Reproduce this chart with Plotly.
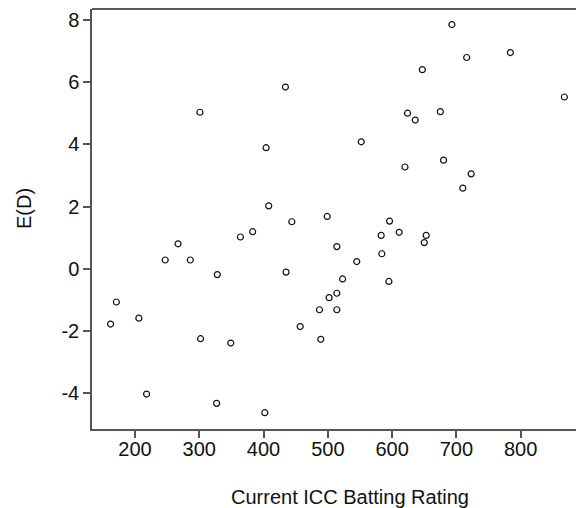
import plotly.graph_objects as go

rating = [162, 171, 206, 218, 247, 267, 286, 301, 302, 327,
          328, 349, 364, 383, 402, 404, 408, 434, 435, 444,
          457, 487, 489, 499, 502, 514, 514, 514, 523, 545,
          552, 583, 584, 595, 596, 611, 620, 624, 636, 647,
          650, 653, 675, 680, 693, 710, 716, 723, 784, 868]
ed = [-1.78, -1.07, -1.59, -4.03, 0.28, 0.80, 0.28, 5.03, -2.25, -4.33,
      -0.19, -2.39, 1.02, 1.19, -4.63, 3.89, 2.02, 5.84, -0.11, 1.51,
      -1.86, -1.32, -2.27, 1.68, -0.93, 0.71, -0.79, -1.32, -0.33, 0.23,
      4.08, 1.07, 0.48, -0.41, 1.53, 1.17, 3.27, 5.00, 4.78, 6.40,
      0.84, 1.07, 5.05, 3.49, 7.85, 2.59, 6.79, 3.05, 6.95, 5.52]

x_ticks = [200, 300, 400, 500, 600, 700, 800]
y_ticks = [-4, -2, 0, 2, 4, 6, 8]
y_ticktext = ["-4", "-2", "0", "2", "4", "6", "8"]
x_title = "Current ICC Batting Rating"
y_title = "E(D)"

fig = go.Figure()
fig.add_trace(go.Scatter(
    x=rating, y=ed, mode="markers",
    marker=dict(symbol="circle-open", size=6, color="#111111",
                line=dict(width=1.2, color="#111111")),
    hoverinfo="x+y", showlegend=False,
))

fig.update_layout(
    width=576, height=508,
    margin=dict(l=92, r=0, t=9, b=79),
    paper_bgcolor="white", plot_bgcolor="white",
    font=dict(family="Liberation Sans, Arial, sans-serif", color="#111111", size=20),
    xaxis=dict(range=[133.1, 886.1], tickvals=x_ticks, showgrid=False, zeroline=False,
               showline=True, linecolor="#555555", linewidth=1.5,
               ticks="outside", ticklen=7, tickwidth=1.5, tickcolor="#555555",
               ticklabelstandoff=-6, tickfont=dict(size=20)),
    yaxis=dict(range=[-5.154, 8.35], tickvals=y_ticks, ticktext=y_ticktext,
               showgrid=False, zeroline=False,
               showline=True, linecolor="#555555", linewidth=1.5,
               ticks="outside", ticklen=7, tickwidth=1.5, tickcolor="#555555",
               tickfont=dict(size=20)),
    shapes=[dict(type="line", xref="paper", yref="paper", x0=0, x1=1, y0=1, y1=1,
                 line=dict(color="#222222", width=1.5))],
    annotations=[
        dict(text=x_title, xref="paper", yref="paper", x=0.533, y=-0.162,
             xanchor="center", yanchor="middle", showarrow=False, font=dict(size=20)),
        dict(text=y_title, xref="paper", yref="paper", x=-0.1415, y=0.525,
             xanchor="center", yanchor="middle", textangle=-90, showarrow=False,
             font=dict(size=20)),
    ],
)

fig.write_html("out.html")
